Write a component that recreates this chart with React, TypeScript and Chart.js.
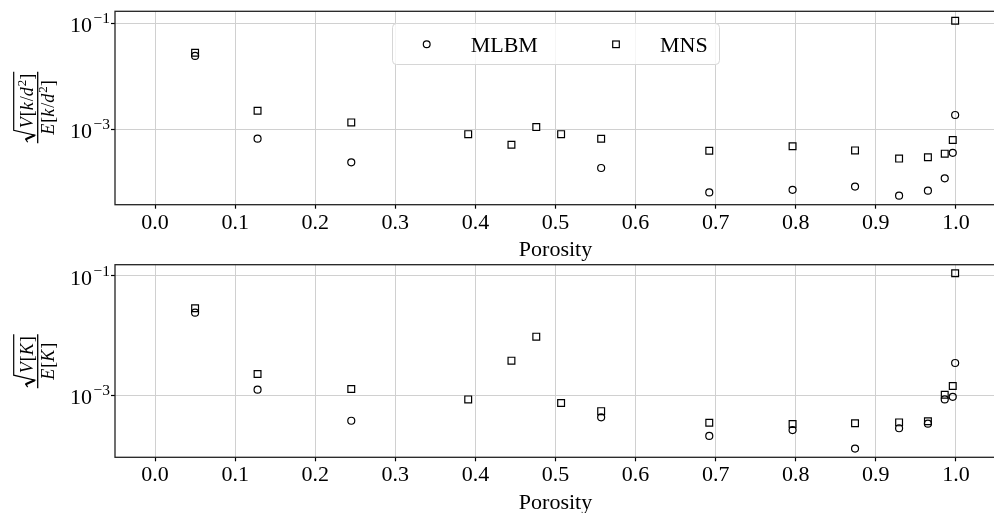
import React, { useEffect, useRef } from "react";
import { Chart, registerables } from "chart.js";

Chart.register(...registerables);

// ---------------- data ----------------
const porosity = [0.05, 0.128, 0.245, 0.391, 0.445, 0.476, 0.507, 0.557, 0.692, 0.796, 0.874, 0.929, 0.965, 0.986, 0.996, 0.999];

// top panel: sqrt(V[k/d^2]) / E[k/d^2]
const mlbmKd = [0.0242, 6.65e-4, 2.38e-4, null, null, null, null, 1.86e-4, 6.45e-5, 7.2e-5, 8.3e-5, 5.6e-5, 6.95e-5, 1.19e-4, 3.6e-4, 1.86e-3];
const mnsKd = [0.0279, 2.24e-3, 1.35e-3, 8.1e-4, 5.1e-4, 1.1e-3, 8.1e-4, 6.65e-4, 3.95e-4, 4.78e-4, 4.0e-4, 2.8e-4, 2.96e-4, 3.47e-4, 6.3e-4, 0.112];

// bottom panel: sqrt(V[K]) / E[K]
const mlbmK = [0.0242, 1.24e-3, 3.73e-4, null, null, null, null, 4.26e-4, 2.07e-4, 2.6e-4, 1.27e-4, 2.79e-4, 3.33e-4, 8.5e-4, 9.4e-4, 3.47e-3];
const mnsK = [0.0287, 2.27e-3, 1.27e-3, 8.5e-4, 3.8e-3, 9.6e-3, 7.4e-4, 5.4e-4, 3.46e-4, 3.29e-4, 3.38e-4, 3.5e-4, 3.65e-4, 1.02e-3, 1.43e-3, 0.111];

const xTicks = [0, 0.1, 0.2, 0.3, 0.4, 0.5, 0.6, 0.7, 0.8, 0.9, 1.0];
const yTicks = [1e-3, 1e-1];
const yTickBase = "10";
const yTickExponents = ["−3", "−1"];
const xTitle = "Porosity";
const seriesNames = ["MLBM", "MNS"];

// ---------------- styling ----------------
const SERIF = "'Liberation Serif', 'Times New Roman', serif";
const GRID = "#d0d0d0";
const CANVAS_W = 1002;

type Run = { t: string; it?: boolean; sup?: boolean };

const numTop: Run[] = [{ t: "V", it: true }, { t: "[" }, { t: "k", it: true }, { t: "/" }, { t: "d", it: true }, { t: "2", sup: true }, { t: "]" }];
const denTop: Run[] = [{ t: "E", it: true }, { t: "[" }, { t: "k", it: true }, { t: "/" }, { t: "d", it: true }, { t: "2", sup: true }, { t: "]" }];
const numBot: Run[] = [{ t: "V", it: true }, { t: "[" }, { t: "K", it: true }, { t: "]" }];
const denBot: Run[] = [{ t: "E", it: true }, { t: "[" }, { t: "K", it: true }, { t: "]" }];

const FS = 18;
function runFont(r: Run) {
  if (r.sup) return `${Math.round(FS * 0.7)}px ${SERIF}`;
  return `${r.it ? "italic " : ""}${FS}px ${SERIF}`;
}
function measureRuns(ctx: CanvasRenderingContext2D, runs: Run[]) {
  let w = 0;
  for (const r of runs) {
    ctx.font = runFont(r);
    w += ctx.measureText(r.t).width + (r.it ? 1 : 0);
  }
  return w;
}
function drawRuns(ctx: CanvasRenderingContext2D, runs: Run[], x: number, base: number) {
  let cx = x;
  ctx.textBaseline = "alphabetic";
  ctx.textAlign = "left";
  for (const r of runs) {
    ctx.font = runFont(r);
    ctx.fillText(r.t, cx, r.sup ? base - 7 : base);
    cx += ctx.measureText(r.t).width + (r.it ? 1 : 0);
  }
}

function drawFraction(ctx: CanvasRenderingContext2D, num: Run[], den: Run[], cx: number, cy: number) {
  ctx.save();
  ctx.translate(cx, cy);
  ctx.rotate(-Math.PI / 2);
  ctx.fillStyle = "#000";
  ctx.strokeStyle = "#000";
  const wn = measureRuns(ctx, num);
  const wd = measureRuns(ctx, den);
  const R = 14;
  const L = Math.max(R + wn + 3, wd + 4);
  const u0 = -L / 2;
  ctx.lineWidth = 1.3;
  ctx.beginPath();
  ctx.moveTo(-L / 2, 0);
  ctx.lineTo(L / 2, 0);
  ctx.stroke();
  ctx.lineWidth = 1.2;
  ctx.beginPath();
  ctx.moveTo(u0 + 1, -10);
  ctx.lineTo(u0 + 4, -12);
  ctx.lineTo(u0 + 8, -3);
  ctx.lineTo(u0 + R - 1, -24);
  ctx.lineTo(L / 2, -24);
  ctx.stroke();
  ctx.lineWidth = 2.2;
  ctx.beginPath();
  ctx.moveTo(u0 + 4, -12);
  ctx.lineTo(u0 + 8, -3);
  ctx.stroke();
  drawRuns(ctx, num, u0 + R + 1, -5);
  drawRuns(ctx, den, -wd / 2, 16);
  ctx.restore();
}

function drawYTickLabels(ctx: CanvasRenderingContext2D, scale: any) {
  ctx.save();
  ctx.fillStyle = "#000";
  ctx.textBaseline = "alphabetic";
  ctx.textAlign = "left";
  const right = 110;
  yTicks.forEach((v, i) => {
    const py = scale.getPixelForValue(v);
    const base = py + 8.6;
    ctx.font = `15.5px ${SERIF}`;
    const supW = ctx.measureText(yTickExponents[i]).width;
    ctx.fillText(yTickExponents[i], right - supW, base - 8.7);
    ctx.font = `22px ${SERIF}`;
    const bw = ctx.measureText(yTickBase).width;
    ctx.fillText(yTickBase, right - supW - 1.5 - bw, base);
  });
  ctx.restore();
}

function drawLegend(ctx: CanvasRenderingContext2D) {
  ctx.save();
  const x = 392.5, y = 23.5, w = 327, h = 41, r = 4;
  ctx.beginPath();
  ctx.moveTo(x + r, y);
  ctx.lineTo(x + w - r, y);
  ctx.arcTo(x + w, y, x + w, y + r, r);
  ctx.lineTo(x + w, y + h - r);
  ctx.arcTo(x + w, y + h, x + w - r, y + h, r);
  ctx.lineTo(x + r, y + h);
  ctx.arcTo(x, y + h, x, y + h - r, r);
  ctx.lineTo(x, y + r);
  ctx.arcTo(x, y, x + r, y, r);
  ctx.closePath();
  ctx.fillStyle = "rgba(255,255,255,0.8)";
  ctx.fill();
  ctx.strokeStyle = "#d6d6d6";
  ctx.lineWidth = 1;
  ctx.stroke();

  ctx.strokeStyle = "#000";
  ctx.lineWidth = 1.2;
  ctx.beginPath();
  ctx.arc(426.7, 44.3, 3.4, 0, Math.PI * 2);
  ctx.stroke();
  ctx.strokeRect(616 - 3.3, 44.3 - 3.3, 6.6, 6.6);

  ctx.fillStyle = "#000";
  ctx.font = `22px ${SERIF}`;
  ctx.textBaseline = "alphabetic";
  ctx.textAlign = "left";
  ctx.fillText(seriesNames[0], 470.7, 51.7);
  ctx.fillText(seriesNames[1], 660, 51.7);
  ctx.restore();
}

function pts(xs: number[], ys: (number | null)[]) {
  return xs.map((x, i) => ({ x, y: ys[i] })).filter((p) => p.y != null) as { x: number; y: number }[];
}

type PanelOpts = {
  mlbm: (number | null)[];
  mns: (number | null)[];
  yMin: number;
  yMax: number;
  padTop: number;
  xAxisH: number;
  titlePadBottom: number;
  num: Run[];
  den: Run[];
  fracCy: number;
  legend: boolean;
};

function makeConfig(o: PanelOpts): any {
  const tickFont = { family: SERIF, size: 22, lineHeight: 1.2 };
  return {
    type: "scatter",
    data: {
      datasets: [
        {
          label: seriesNames[0],
          data: pts(porosity, o.mlbm),
          pointStyle: "circle",
          pointRadius: 3.5,
          borderColor: "#000",
          backgroundColor: "rgba(0,0,0,0)",
          borderWidth: 1.2,
        },
        {
          label: seriesNames[1],
          data: pts(porosity, o.mns),
          pointStyle: "rect",
          pointRadius: 4.8,
          borderColor: "#000",
          backgroundColor: "rgba(0,0,0,0)",
          borderWidth: 1.2,
        },
      ],
    },
    options: {
      animation: false,
      responsive: false,
      maintainAspectRatio: false,
      events: [],
      layout: { padding: { top: o.padTop, right: 0, left: 0, bottom: 0 } },
      plugins: { legend: { display: false }, tooltip: { enabled: false } },
      scales: {
        x: {
          type: "linear",
          min: -0.05,
          max: 1.05,
          afterBuildTicks: (s: any) => {
            s.ticks = xTicks.map((v) => ({ value: v }));
          },
          afterFit: (s: any) => {
            s.height = o.xAxisH;
            s.paddingLeft = 0;
            s.paddingRight = 0;
          },
          ticks: {
            autoSkip: false,
            maxRotation: 0,
            color: "#000",
            padding: 1,
            font: tickFont,
            callback: (v: any) => Number(v).toFixed(1),
          },
          grid: { color: GRID, lineWidth: 1, tickColor: "#000", tickLength: 4, tickWidth: 1.2 },
          border: { display: false },
          title: {
            display: true,
            text: xTitle,
            color: "#000",
            font: tickFont,
            padding: { top: 0, bottom: o.titlePadBottom },
          },
        },
        y: {
          type: "logarithmic",
          min: o.yMin,
          max: o.yMax,
          afterBuildTicks: (s: any) => {
            s.ticks = yTicks.map((v) => ({ value: v }));
          },
          afterFit: (s: any) => {
            s.width = 115;
            s.paddingTop = 0;
            s.paddingBottom = 0;
          },
          ticks: { display: false, autoSkip: false },
          grid: { color: GRID, lineWidth: 1, tickColor: "#000", tickLength: 4, tickWidth: 1.2 },
          border: { display: false },
        },
      },
    },
    plugins: [
      {
        id: "frameAndLabels",
        afterDraw(chart: any) {
          const { ctx, chartArea: a } = chart;
          ctx.save();
          ctx.strokeStyle = "#222";
          ctx.lineWidth = 1.3;
          ctx.strokeRect(a.left, a.top, a.right - a.left, a.bottom - a.top);
          ctx.restore();
          drawYTickLabels(ctx, chart.scales.y);
          drawFraction(ctx, o.num, o.den, 37.7, o.fracCy);
          if (o.legend) drawLegend(ctx);
        },
      },
    ],
  };
}

function Panel({ config, top, height }: { config: any; top: number; height: number }) {
  const ref = useRef<HTMLCanvasElement>(null);
  useEffect(() => {
    const c = new Chart(ref.current as HTMLCanvasElement, config);
    return () => c.destroy();
  }, []);
  return (
    <div style={{ position: "absolute", left: 0, top, width: CANVAS_W, height }}>
      <canvas ref={ref} width={CANVAS_W} height={height} style={{ display: "block", width: CANVAS_W, height }} />
    </div>
  );
}

export default function App() {
  const topH = 264;
  const botH = 257;
  const topCfg = makeConfig({
    mlbm: mlbmKd,
    mns: mnsKd,
    yMin: 3.78e-5,
    yMax: 0.1684,
    padTop: 11.3,
    xAxisH: topH - 204.7,
    titlePadBottom: 0.8,
    num: numTop,
    den: denTop,
    fracCy: 107.5,
    legend: true,
  });
  const botCfg = makeConfig({
    mlbm: mlbmK,
    mns: mnsK,
    yMin: 9.08e-5,
    yMax: 0.1547,
    padTop: 8.7,
    xAxisH: botH - 201.3,
    titlePadBottom: -3.7,
    num: numBot,
    den: denBot,
    fracCy: 105.2,
    legend: false,
  });
  return (
    <div style={{ position: "fixed", left: 0, top: 0, width: 994, height: 513, overflow: "hidden", background: "#fff" }}>
      <Panel config={topCfg} top={0} height={topH} />
      <Panel config={botCfg} top={256} height={botH} />
    </div>
  );
}
